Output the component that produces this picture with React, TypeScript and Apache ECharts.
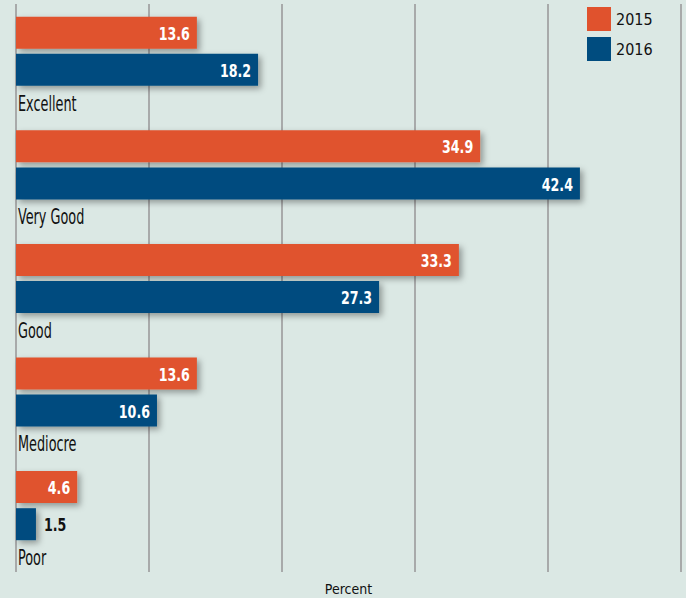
import React, { useEffect, useRef } from "react";
import * as echarts from "echarts";

const categories = ["Excellent", "Very Good", "Good", "Mediocre", "Poor"];
const values2015 = [13.6, 34.9, 33.3, 13.6, 4.6];
const values2016 = [18.2, 42.4, 27.3, 10.6, 1.5];
const seriesNames = ["2015", "2016"];
const axisName = "Percent";

const FONT = "'DejaVu Sans Condensed', 'Liberation Sans Narrow', 'Roboto', sans-serif";
const ORANGE = "#e0522d";
const BLUE = "#004c7f";
const BAR_W = 32;
const GAP_RATIO = 0.16;
const LABEL_W = 14;

export default function App() {
  const ref = useRef<HTMLDivElement>(null);
  useEffect(() => {
    if (!ref.current) return;
    const chart = echarts.init(ref.current, undefined, { renderer: "svg" });
    const shadow = {
      shadowBlur: 6,
      shadowColor: "rgba(0,0,0,0.35)",
      shadowOffsetX: 3,
      shadowOffsetY: 3,
    };
    const gap = BAR_W * GAP_RATIO;
    const labelData = categories.map((c, i) => [i, values2015[i], values2016[i]]);
    chart.setOption({
      animation: false,
      backgroundColor: "#dbe8e4",
      grid: {
        left: 16,
        right: 5,
        top: 4,
        bottom: 26,
        containLabel: false,
        outerBoundsMode: "none",
      },
      legend: {
        data: seriesNames,
        orient: "vertical",
        left: 582,
        top: 2,
        itemWidth: 24,
        itemHeight: 24,
        itemGap: 6,
        icon: "rect",
        textStyle: { fontFamily: FONT, fontSize: 16, color: "#111" },
      },
      xAxis: {
        type: "value",
        min: 0,
        max: 50,
        interval: 10,
        axisLabel: { show: false },
        axisLine: { show: false },
        axisTick: { show: false },
        splitLine: { show: true, lineStyle: { color: "#a8aaaa", width: 2 } },
        name: axisName,
        nameLocation: "middle",
        nameGap: 10,
        nameTextStyle: { fontFamily: FONT, fontSize: 14, color: "#111" },
      },
      yAxis: {
        type: "category",
        data: categories,
        inverse: true,
        axisLabel: { show: false },
        axisLine: { show: false },
        axisTick: { show: false },
        splitLine: { show: false },
      },
      series: [
        {
          name: seriesNames[0],
          type: "bar",
          data: values2015,
          barWidth: BAR_W,
          barGap: GAP_RATIO * 100 + "%",
          itemStyle: { color: ORANGE, ...shadow },
        },
        {
          name: seriesNames[1],
          type: "bar",
          data: values2016,
          barWidth: BAR_W,
          barGap: GAP_RATIO * 100 + "%",
          itemStyle: { color: BLUE, ...shadow },
        },
        {
          name: "slot",
          type: "bar",
          data: categories.map(() => 0),
          barWidth: LABEL_W,
          barGap: GAP_RATIO * 100 + "%",
          silent: true,
          itemStyle: { color: "transparent" },
        },
        {
          name: "labels",
          type: "custom",
          z: 5,
          silent: true,
          encode: { x: [1, 2], y: 0 },
          data: labelData,
          renderItem: (params: any, api: any) => {
            const i = api.value(0);
            const vals = [api.value(1), api.value(2)];
            const base = api.coord([0, i]);
            const total = 2 * (BAR_W + gap) + LABEL_W;
            const start = base[1] - total / 2;
            const centers = [start + BAR_W / 2, start + BAR_W + gap + BAR_W / 2];
            const labelY = start + 2 * (BAR_W + gap) + LABEL_W / 2;
            const children: any[] = [];
            vals.forEach((v: number, k: number) => {
              const end = api.coord([v, i])[0];
              const inside = end - base[0] > 30;
              children.push({
                type: "text",
                x: inside ? end - 7 : end + 8,
                y: centers[k] + 1,
                scaleX: 0.78,
                style: {
                  text: v.toFixed(1),
                  fill: inside ? "#ffffff" : "#111111",
                  align: inside ? "right" : "left",
                  verticalAlign: "middle",
                  fontFamily: FONT,
                  fontSize: 18,
                  fontWeight: "bold",
                },
              });
            });
            children.push({
              type: "text",
              x: base[0] + 2,
              y: labelY + 5,
              scaleX: 0.68,
              style: {
                text: categories[i],
                fill: "#111111",
                align: "left",
                verticalAlign: "middle",
                fontFamily: FONT,
                fontSize: 21,
              },
            });
            return { type: "group", children };
          },
        },
      ],
    });
    return () => chart.dispose();
  }, []);
  return (
    <div
      ref={ref}
      style={{ position: "fixed", left: 0, top: 0, width: 686, height: 598 }}
    />
  );
}
